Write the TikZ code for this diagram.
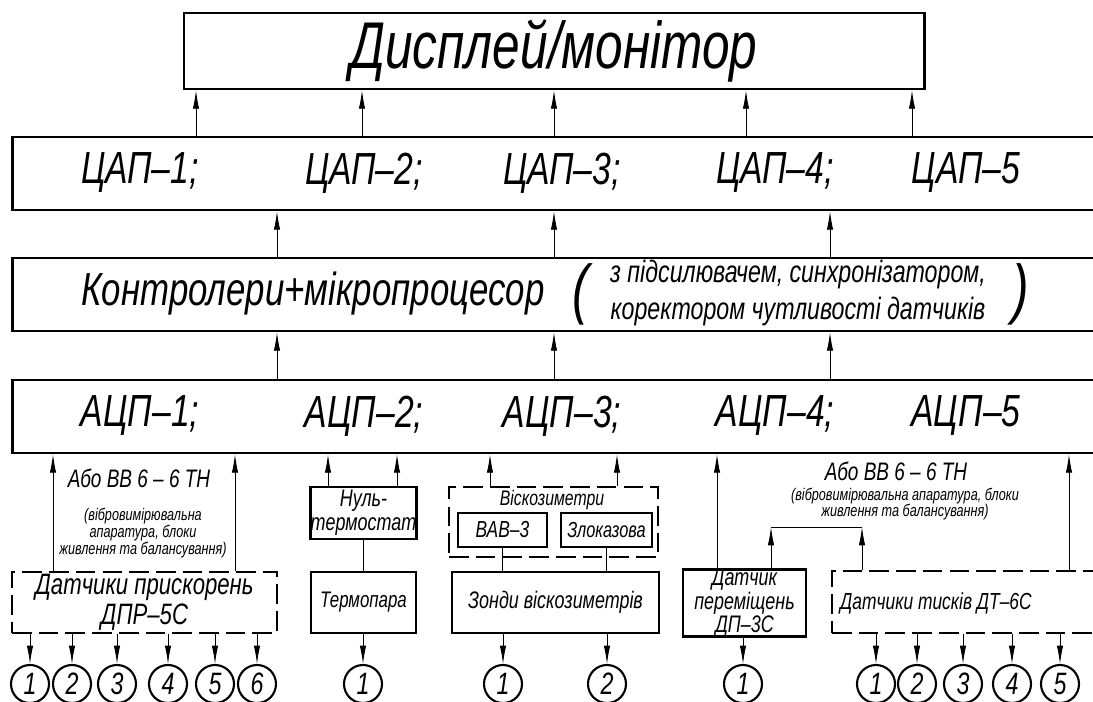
\documentclass[tikz,border=0pt]{standalone}
\usepackage{fontspec}
\setmainfont{Liberation Sans}[FakeStretch=0.75]
\usetikzlibrary{arrows.meta}

\begin{document}
\begin{tikzpicture}[
        x=0.025cm, y=-0.025cm,
        txt/.style={font=\itshape\fontsize{#1}{#1}\selectfont},
        box/.style={rectangle, draw=black, line width=2pt, inner sep=0pt, align=center},
        dbox/.style={box, dash pattern=on 14pt off 5pt},
        lbl/.style={inner sep=0pt, align=center},
        num/.style={circle, draw=black, line width=1.5pt, minimum size=0.95cm, inner sep=0pt, txt=22},
        arr/.style={line width=0.6pt, -{Latex[length=13pt, width=4.5pt]}},
        link/.style={line width=0.6pt}
    ]
        \useasboundingbox (0,0) rectangle (1093,702);
        \clip (0,0) rectangle (1093,702);

        % Display and converter rows
        \node[box, txt=47, minimum width=18.5cm, minimum height=1.9cm] (disp) at (554,51) {Дисплей/монітор};
        \node[box, minimum width=27.5cm, minimum height=1.825cm] (dac) at (563,173.5) {};
        \node[box, minimum width=27.5cm, minimum height=1.825cm] (ctrl) at (563,294.5) {};
        \node[box, minimum width=27.5cm, minimum height=1.825cm] (adc) at (563,416.5) {};

        \node[lbl, txt=32] (dac1) at (140,173) {ЦАП–1;};
        \node[lbl, txt=32] (dac2) at (364,173) {ЦАП–2;};
        \node[lbl, txt=32] (dac3) at (562,173) {ЦАП–3;};
        \node[lbl, txt=32] (dac4) at (775,173) {ЦАП–4;};
        \node[lbl, txt=32] (dac5) at (966,173) {ЦАП–5};

        \node[lbl, txt=33] (ctrlt) at (313,294) {Контролери+мікропроцесор};
        \node[lbl, txt=47] (lpar) at (581,294) {(};
        \node[lbl, font=\itshape\fontsize{22}{27}\selectfont] (ctrln) at (798,293) {з підсилювачем, синхронізатором,\\коректором чутливості датчиків};
        \node[lbl, txt=47] (rpar) at (1021,294) {)};

        \node[lbl, txt=32] (adc1) at (140,416) {АЦП–1;};
        \node[lbl, txt=32] (adc2) at (364,416) {АЦП–2;};
        \node[lbl, txt=32] (adc3) at (562,416) {АЦП–3;};
        \node[lbl, txt=32] (adc4) at (775,416) {АЦП–4;};
        \node[lbl, txt=32] (adc5) at (966,416) {АЦП–5};

        \draw[arr] (196,0 |- dac.north) -- (196,0 |- disp.south);
        \draw[arr] (362,0 |- dac.north) -- (362,0 |- disp.south);
        \draw[arr] (554,0 |- dac.north) -- (554,0 |- disp.south);
        \draw[arr] (746,0 |- dac.north) -- (746,0 |- disp.south);
        \draw[arr] (912,0 |- dac.north) -- (912,0 |- disp.south);

        \draw[arr] (277,0 |- ctrl.north) -- (277,0 |- dac.south);
        \draw[arr] (554,0 |- ctrl.north) -- (554,0 |- dac.south);
        \draw[arr] (830,0 |- ctrl.north) -- (830,0 |- dac.south);
        \draw[arr] (277,0 |- adc.north) -- (277,0 |- ctrl.south);
        \draw[arr] (554,0 |- adc.north) -- (554,0 |- ctrl.south);
        \draw[arr] (830,0 |- adc.north) -- (830,0 |- ctrl.south);

        % Sensor blocks
        \node[dbox, txt=21, minimum width=6.625cm, minimum height=1.525cm] (accel) at (144.5,602.5) {Датчики прискорень\\ДПР–5С};
        \node[box, txt=17, minimum width=2.625cm, minimum height=1.3cm] (nult) at (363.5,513) {Нуль-\\термостат};
        \node[box, txt=16, minimum width=2.625cm, minimum height=1.525cm] (tpara) at (363.5,602.5) {Термопара};
        \node[dbox, minimum width=5.225cm, minimum height=1.75cm] (visc) at (553.5,522) {};
        \node[lbl, txt=15] (visct) at (552,500) {Віскозиметри};
        \node[box, txt=16.5, minimum width=2.225cm, minimum height=0.85cm] (vab) at (502.5,530) {ВАВ–3};
        \node[box, txt=15.5, minimum width=2.275cm, minimum height=0.85cm] (zlok) at (606.5,530) {Злоказова};
        \node[box, txt=17, minimum width=5.175cm, minimum height=1.525cm] (zond) at (555.5,602.5) {Зонди віскозиметрів};
        \node[box, font=\itshape\fontsize{17}{14}\selectfont, minimum width=3.075cm, minimum height=1.55cm] (dp) at (744.5,603) {Датчик\\переміщень\\ДП–3С};
        \node[dbox, minimum width=6.95cm, minimum height=1.55cm] (dt) at (971,602) {};
        \node[lbl, txt=16.5] (dtt) at (936,603) {Датчики тисків ДТ–6С};

        % Notes
        \node[lbl, txt=18] (ora) at (139,478) {Або ВВ 6 – 6 ТН};
        \node[lbl, txt=12] (orat) at (143,533) {(вібровимірювальна\\апаратура, блоки\\живлення та балансування)};
        \node[lbl, txt=18] (orb) at (896,471) {Або ВВ 6 – 6 ТН};
        \node[lbl, txt=12] (orbt) at (905,504) {(вібровимірювальна апаратура, блоки\\живлення та балансування)};

        \draw[arr] (53,0 |- accel.north) -- (53,0 |- adc.south);
        \draw[arr] (235,0 |- accel.north) -- (235,0 |- adc.south);
        \draw[arr] (328,0 |- nult.north) -- (328,0 |- adc.south);
        \draw[arr] (397,0 |- nult.north) -- (397,0 |- adc.south);
        \draw[arr] (490,0 |- visc.north) -- (490,0 |- adc.south);
        \draw[arr] (617,0 |- visc.north) -- (617,0 |- adc.south);
        \draw[arr] (717,0 |- dp.north) -- (717,0 |- adc.south);
        \draw[arr] (1069,0 |- dt.north) -- (1069,0 |- adc.south);

        \draw[link] (nult) -- (tpara);
        \draw[link] (vab.south) -- (vab.south |- zond.north);
        \draw[link] (zlok.south) -- (zlok.south |- zond.north);

        \coordinate (jl) at (771,527);
        \coordinate (jr) at (862,527);
        \draw[link] (jl) -- (jr);
        \draw[arr] (jl |- dp.north) -- (jl);
        \draw[arr] (jr |- dt.north) -- (jr);

        % Channels
        \node[num] (a1) at (30,684) {1};
        \node[num] (a2) at (72,684) {2};
        \node[num] (a3) at (117,684) {3};
        \node[num] (a4) at (168,684) {4};
        \node[num] (a5) at (215,684) {5};
        \node[num] (a6) at (257,684) {6};
        \node[num] (t1) at (363,684) {1};
        \node[num] (z1) at (503,684) {1};
        \node[num] (z2) at (607,684) {2};
        \node[num] (p1) at (743,684) {1};
        \node[num] (d1) at (876,684) {1};
        \node[num] (d2) at (917,684) {2};
        \node[num] (d3) at (963,684) {3};
        \node[num] (d4) at (1012,684) {4};
        \node[num] (d5) at (1060,684) {5};

        \draw[arr] (a1 |- accel.south) -- (a1.north);
        \draw[arr] (a2 |- accel.south) -- (a2.north);
        \draw[arr] (a3 |- accel.south) -- (a3.north);
        \draw[arr] (a4 |- accel.south) -- (a4.north);
        \draw[arr] (a5 |- accel.south) -- (a5.north);
        \draw[arr] (a6 |- accel.south) -- (a6.north);
        \draw[arr] (t1 |- tpara.south) -- (t1.north);
        \draw[arr] (z1 |- zond.south) -- (z1.north);
        \draw[arr] (z2 |- zond.south) -- (z2.north);
        \draw[arr] (p1 |- dp.south) -- (p1.north);
        \draw[arr] (d1 |- dt.south) -- (d1.north);
        \draw[arr] (d2 |- dt.south) -- (d2.north);
        \draw[arr] (d3 |- dt.south) -- (d3.north);
        \draw[arr] (d4 |- dt.south) -- (d4.north);
        \draw[arr] (d5 |- dt.south) -- (d5.north);
\end{tikzpicture}
\end{document}
